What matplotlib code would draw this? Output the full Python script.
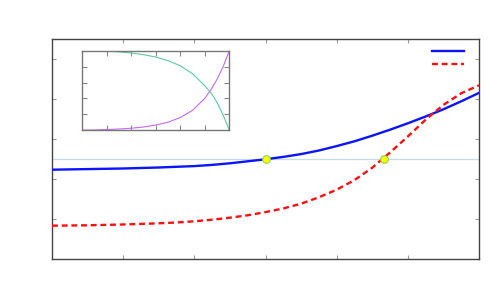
import matplotlib
matplotlib.use("Agg")
import matplotlib.pyplot as plt
from matplotlib.lines import Line2D

# main curves
x_blue = [0, 0.5, 1, 1.5, 2, 2.25, 2.5, 2.75, 3, 3.25, 3.5, 3.75, 4, 4.25,
          4.5, 4.75, 5, 5.25, 5.5, 5.75, 6]
blue_y = [2.24, 2.255, 2.27, 2.295, 2.33, 2.36, 2.40, 2.45, 2.50, 2.56, 2.63,
          2.72, 2.83, 2.95, 3.09, 3.24, 3.40, 3.57, 3.75, 3.95, 4.16]
x_red = [0, 0.5, 1, 1.5, 1.75, 2, 2.25, 2.5, 2.75, 3, 3.25, 3.5, 3.75, 4,
         4.25, 4.5, 4.75, 5, 5.25, 5.5, 5.75, 6]
red_y = [0.84, 0.85, 0.87, 0.90, 0.92, 0.95, 0.99, 1.04, 1.10, 1.18, 1.27,
         1.39, 1.55, 1.74, 1.98, 2.29, 2.67, 3.07, 3.49, 3.86, 4.15, 4.35]
level = 2.5
pts_x = [3.0, 4.66]
pts_y = [2.5, 2.5]

# inset curves
x_ins = [0, 0.5, 1, 1.5, 2, 2.5, 3, 3.5, 4, 4.5, 5, 5.25, 5.5, 5.75, 6]
teal_y = [1.0, 0.999, 0.995, 0.985, 0.97, 0.95, 0.92, 0.875, 0.81, 0.71,
          0.56, 0.47, 0.35, 0.19, 0.0]
purple_y = [0.0, 0.003, 0.008, 0.015, 0.025, 0.04, 0.065, 0.10, 0.16, 0.25,
            0.40, 0.51, 0.64, 0.80, 1.0]

fig = plt.figure(figsize=(5, 3), dpi=100)
ax = fig.add_axes([0.104, 0.1357, 0.854, 0.7333])
ax.set_xlim(0, 6)
ax.set_ylim(0, 5.5)
ax.set_xticks([1, 2, 3, 4, 5])
ax.set_yticks([1, 2, 3, 4, 5])
ax.tick_params(direction="in", length=3, width=0.8, color="#999999",
               top=True, right=True, labelbottom=False, labelleft=False)
for s in ax.spines.values():
    s.set_color("#444444")
    s.set_linewidth(1.0)

ax.axhline(level, color="#c5dde8", lw=0.9, zorder=1)
ax.plot(x_blue, blue_y, color="#0a14ff", lw=1.7, zorder=3)
ax.plot(x_red, red_y, color="#ff1010", lw=1.7, ls=(0, (2.5, 1.6)), zorder=3)
ax.plot(pts_x, pts_y, ls="none", marker="o", ms=5.5, mfc="#ffff00",
        mec="#8ccf5a", mew=0.8, zorder=4)

handles = [Line2D([], [], color="#0a14ff", lw=1.7),
           Line2D([], [], color="#ff1010", lw=1.7, ls=(0, (2.5, 1.6)))]
ax.legend(handles, [" ", " "], loc="upper left", bbox_to_anchor=(0.889, 0.964),
          frameon=False, fontsize=8, handlelength=2.9, handletextpad=0,
          borderpad=0, borderaxespad=0, labelspacing=0.2)

ins = fig.add_axes([0.1646, 0.566, 0.294, 0.265])
ins.set_xlim(0, 6)
ins.set_ylim(0, 1)
ins.set_xticks([1, 2, 3, 4, 5])
ins.set_yticks([0.2, 0.4, 0.6, 0.8])
ins.tick_params(direction="in", length=3.5, width=0.8, color="#888888",
                top=True, right=True, labelbottom=False, labelleft=False)
for s in ins.spines.values():
    s.set_color("#777777")
    s.set_linewidth(1.0)
ins.plot(x_ins, teal_y, color="#5cc9a7", lw=0.8)
ins.plot(x_ins, purple_y, color="#c26cf0", lw=0.8)

fig.savefig("out.png", dpi=100)
